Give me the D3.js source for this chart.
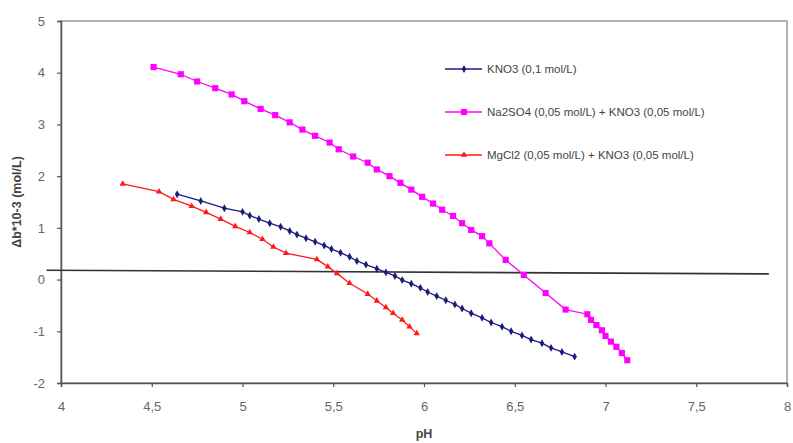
<!DOCTYPE html>
<html>
<head>
<meta charset="utf-8">
<script src="https://cdn.jsdelivr.net/npm/d3@7"></script>
<style>
  html, body { margin: 0; padding: 0; background: #fff; }
  svg { display: block; font-family: "Liberation Sans", Arial, sans-serif; }
</style>
</head>
<body>
<div id="chart"></div>
<script>
// pH / Δb readings for each electrolyte
const kno3 = [
  [4.64, 1.65], [4.77, 1.52], [4.90, 1.38], [5.00, 1.31], [5.04, 1.24], [5.09, 1.17],
  [5.15, 1.09], [5.21, 1.02], [5.26, 0.94], [5.30, 0.87], [5.35, 0.80], [5.40, 0.73],
  [5.45, 0.66], [5.49, 0.59], [5.54, 0.52], [5.59, 0.44], [5.63, 0.36], [5.68, 0.29],
  [5.74, 0.21], [5.79, 0.14], [5.84, 0.07], [5.88, -0.01], [5.93, -0.08], [5.98, -0.16],
  [6.02, -0.24], [6.07, -0.32], [6.12, -0.40], [6.17, -0.48], [6.21, -0.56], [6.26, -0.65],
  [6.32, -0.74], [6.37, -0.83], [6.43, -0.91], [6.48, -1.00], [6.54, -1.08], [6.59, -1.16],
  [6.65, -1.23], [6.70, -1.32], [6.76, -1.40], [6.83, -1.49]
];
const na2so4 = [
  [4.51, 4.11], [4.66, 3.97], [4.75, 3.83], [4.85, 3.70], [4.94, 3.58], [5.01, 3.45],
  [5.10, 3.30], [5.18, 3.18], [5.26, 3.04], [5.33, 2.90], [5.40, 2.78], [5.48, 2.65],
  [5.53, 2.52], [5.61, 2.38], [5.69, 2.26], [5.74, 2.13], [5.81, 2.00], [5.87, 1.87],
  [5.93, 1.74], [5.99, 1.60], [6.05, 1.47], [6.10, 1.35], [6.16, 1.23], [6.21, 1.09],
  [6.26, 0.96], [6.32, 0.84], [6.36, 0.70], [6.45, 0.38], [6.55, 0.09], [6.67, -0.26],
  [6.78, -0.58], [6.90, -0.67], [6.92, -0.78], [6.95, -0.88], [6.98, -0.98], [7.00, -1.09],
  [7.03, -1.20], [7.06, -1.30], [7.09, -1.42], [7.12, -1.56]
];
const mgcl2 = [
  [4.34, 1.85], [4.54, 1.70], [4.62, 1.55], [4.72, 1.42], [4.80, 1.30], [4.88, 1.17],
  [4.96, 1.03], [5.04, 0.91], [5.11, 0.78], [5.17, 0.63], [5.24, 0.51], [5.41, 0.39],
  [5.47, 0.25], [5.52, 0.12], [5.59, -0.07], [5.69, -0.28], [5.74, -0.41], [5.79, -0.54],
  [5.83, -0.65], [5.88, -0.78], [5.92, -0.91], [5.96, -1.04]
];
// the hand drawn near-zero reference line
const refLine = [[3.92, 0.18], [7.90, 0.11]];

const xTicks = [4, 4.5, 5, 5.5, 6, 6.5, 7, 7.5, 8];
const yTicks = [-2, -1, 0, 1, 2, 3, 4, 5];

const series = [
  { name: "KNO3 (0,1 mol/L)", data: kno3, color: "#1c1c7c", symbol: d3.symbolDiamond, size: 18 },
  { name: "Na2SO4 (0,05 mol/L) + KNO3 (0,05 mol/L)", data: na2so4, color: "#ff00ff", symbol: d3.symbolSquare, size: 38 },
  { name: "MgCl2 (0,05 mol/L) + KNO3 (0,05 mol/L)", data: mgcl2, color: "#ff1a1a", symbol: d3.symbolTriangle, size: 18 }
];

const width = 793, height = 443;
const x = d3.scaleLinear().domain([4, 8]).range([61, 787]);
const y = d3.scaleLinear().domain([-2, 5]).range([383, 21]);
const fmt = d => String(d).replace(".", ",");

const svg = d3.select("#chart").append("svg")
  .attr("width", width)
  .attr("height", height);

// plot frame (top / right edges are lighter)
svg.append("rect")
  .attr("x", x(4)).attr("y", y(5))
  .attr("width", x(8) - x(4)).attr("height", y(-2) - y(5))
  .attr("fill", "none")
  .attr("stroke", "#9a9a9a")
  .attr("stroke-width", 1.5);

const xAxis = svg.append("g")
  .attr("transform", `translate(0,${y(-2)})`)
  .call(d3.axisBottom(x).tickValues(xTicks).tickFormat(fmt).tickSize(4).tickPadding(15));

const yAxis = svg.append("g")
  .attr("transform", `translate(${x(4)},0)`)
  .call(d3.axisLeft(y).tickValues(yTicks).tickFormat(fmt).tickSize(4).tickPadding(12));

[xAxis, yAxis].forEach(g => {
  g.select(".domain").attr("stroke", "#555").attr("stroke-width", 1.5);
  g.selectAll(".tick line").attr("stroke", "#555").attr("stroke-width", 1.2);
  g.selectAll(".tick text")
    .attr("fill", "#666")
    .style("font-size", "13px")
    .style("font-family", "'Liberation Sans', Arial, sans-serif");
});

// axis titles
svg.append("text")
  .attr("x", x(6)).attr("y", 438)
  .attr("text-anchor", "middle")
  .attr("font-size", 12.5)
  .attr("font-weight", "bold")
  .attr("fill", "#444")
  .text("pH");

svg.append("text")
  .attr("transform", `translate(21,${y(1.5)}) rotate(-90)`)
  .attr("text-anchor", "middle")
  .attr("font-size", 12.5)
  .attr("font-weight", "bold")
  .attr("fill", "#444")
  .text("Δb*10-3 (mol/L)");

// reference line
svg.append("path")
  .attr("d", d3.line().x(d => x(d[0])).y(d => y(d[1]))(refLine))
  .attr("fill", "none")
  .attr("stroke", "#333")
  .attr("stroke-width", 1.6);

const line = d3.line().x(d => x(d[0])).y(d => y(d[1]));

series.forEach(s => {
  const g = svg.append("g");
  g.append("path")
    .attr("d", line(s.data))
    .attr("fill", "none")
    .attr("stroke", s.color)
    .attr("stroke-width", 1.3);
  g.selectAll("path.pt")
    .data(s.data)
    .join("path")
    .attr("class", "pt")
    .attr("transform", d => `translate(${x(d[0])},${y(d[1])})`)
    .attr("d", d3.symbol().type(s.symbol).size(s.size))
    .attr("fill", s.color);
});

// legend
const legend = svg.append("g").attr("transform", "translate(445,69)");
legend.selectAll("g")
  .data(series)
  .join("g")
  .attr("transform", (d, i) => `translate(0,${i * 43})`)
  .each(function (s) {
    const row = d3.select(this);
    row.append("line")
      .attr("x1", 0).attr("x2", 37)
      .attr("stroke", s.color).attr("stroke-width", 1.5);
    row.append("path")
      .attr("transform", "translate(19,0)")
      .attr("d", d3.symbol().type(s.symbol).size(s.size))
      .attr("fill", s.color);
    row.append("text")
      .attr("x", 42).attr("dy", "0.35em")
      .attr("font-size", 11.5)
      .attr("fill", "#444")
      .text(s.name);
  });
</script>
</body>
</html>
